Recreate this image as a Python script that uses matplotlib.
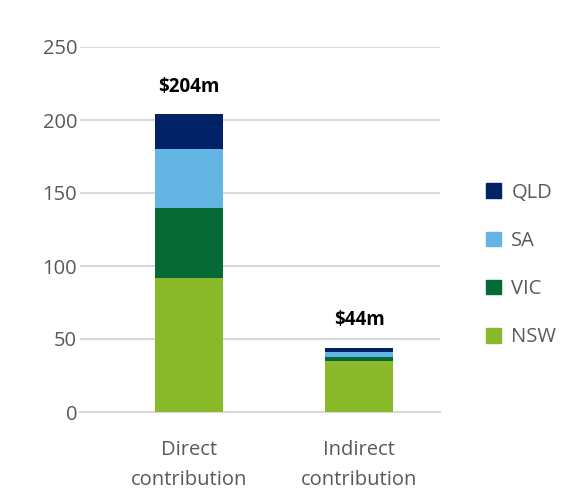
import matplotlib.pyplot as plt
from matplotlib.patches import Patch

plt.rcParams['font.family'] = ['Open Sans', 'DejaVu Sans']

categories = ['Direct\ncontribution', 'Indirect\ncontribution']
states = ['NSW', 'VIC', 'SA', 'QLD']
values = {
    'NSW': [92, 35],
    'VIC': [48, 2.5],
    'SA': [40, 3.5],
    'QLD': [24, 3],
}
totals = ['$204m', '$44m']
colors = {'NSW': '#8aba2a', 'VIC': '#066a37', 'SA': '#64b5e4', 'QLD': '#012266'}

fig = plt.figure(figsize=(5.64, 5.04), dpi=100)
ax = fig.add_axes([80 / 564, 92 / 504, 360 / 564, 365 / 504])

x = [0, 1]
bottom = [0, 0]
for s in states:
    ax.bar(x, values[s], 0.395, bottom=bottom, color=colors[s], zorder=3)
    bottom = [b + v for b, v in zip(bottom, values[s])]

for xi, b, t in zip(x, bottom, totals):
    ax.text(xi, b + 12, t, ha='center', va='bottom', fontsize=13.5,
            fontweight='bold', color='black')

ax.set_ylim(0, 250)
ax.set_xlim(-0.641, 1.476)
ax.set_yticks(range(0, 251, 50))
ax.set_xticks(x)
ax.set_xticklabels(categories, linespacing=1.65)
ax.grid(axis='y', color='#d9d9d9', linewidth=1.5, zorder=0)
for sp in ax.spines.values():
    sp.set_visible(False)
ax.spines['bottom'].set_visible(True)
ax.spines['bottom'].set_color('#d9d9d9')
ax.spines['bottom'].set_linewidth(1.5)
ax.tick_params(length=0, labelsize=14.5, labelcolor='#595959')
ax.tick_params(axis='y', pad=2)
ax.tick_params(axis='x', pad=20)

handles = [Patch(color=colors[s], label=s) for s in reversed(states)]
fig.legend(handles=handles, loc='center left', bbox_to_anchor=(468 / 564, 239 / 504),
           frameon=False, fontsize=14.5, labelcolor='#595959', labelspacing=1.4,
           handlelength=0.75, handleheight=0.75, handletextpad=0.5)

fig.savefig('out.png', dpi=100)
